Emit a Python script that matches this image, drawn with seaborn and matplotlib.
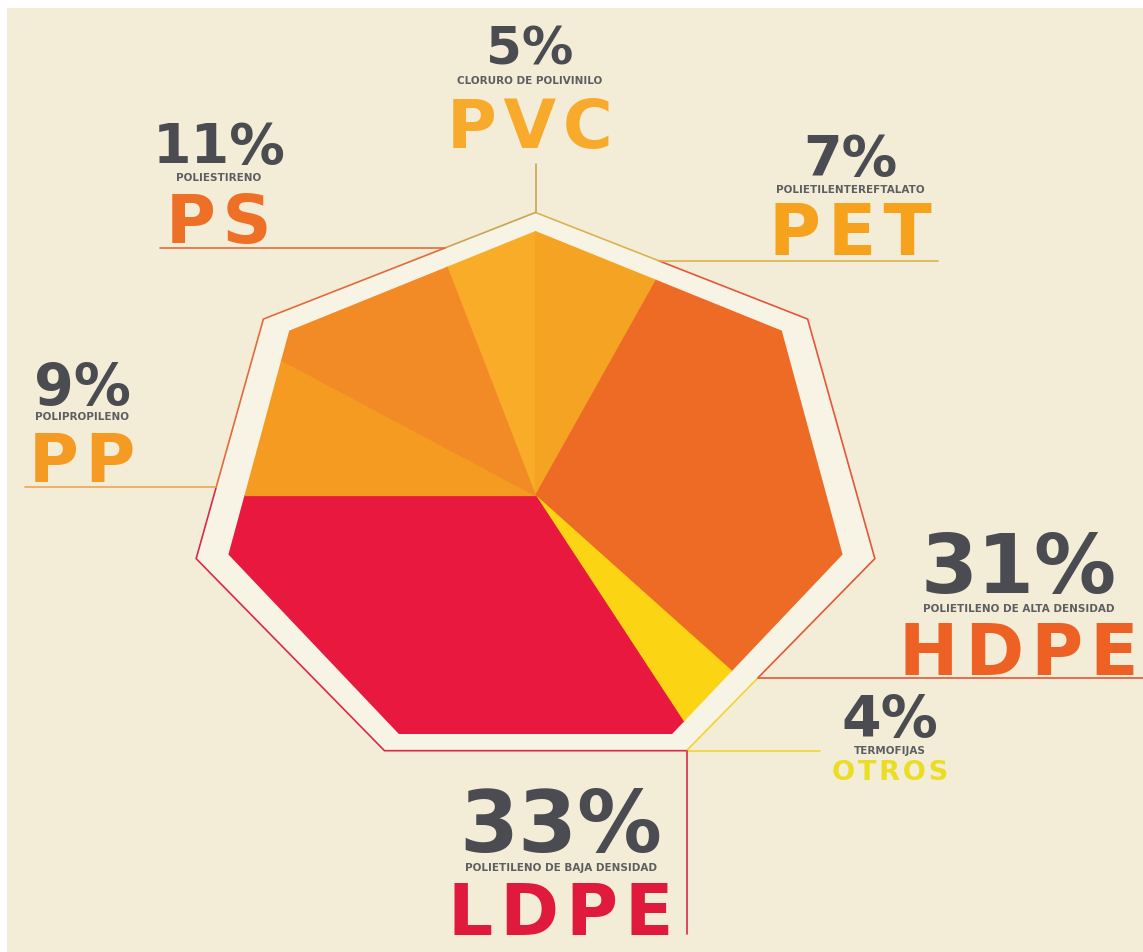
import numpy as np
import matplotlib
matplotlib.use('Agg')
import matplotlib.pyplot as plt
from matplotlib.patches import Polygon, Rectangle
import seaborn as sns

# plastic shares, clockwise from the top of the heptagon
materials = ['PVC', 'PET', 'HDPE', 'OTROS', 'LDPE', 'PP', 'PS']
shares = [5, 7, 31, 4, 33, 9, 11]
descriptions = ['CLORURO DE POLIVINILO', 'POLIETILENTEREFTALATO', 'POLIETILENO DE ALTA DENSIDAD',
                'TERMOFIJAS', 'POLIETILENO DE BAJA DENSIDAD', 'POLIPROPILENO', 'POLIESTIRENO']
slice_colors = ['#F8AC28', '#F5A323', '#EE6B25', '#FBD414', '#E8183F', '#F59B22', '#F28A26']
name_colors = ['#F8AA2C', '#F6A21C', '#EE6125', '#EADD22', '#E01A3C', '#F59A22', '#EE7027']
line_colors = ['#C8A550', '#DDB24E', '#E4553A', '#F0D52E', '#D9294A', '#EFA550', '#E36A3A']

# label layout in pixels: centre x, baseline of percent, description, name, font sizes
label_layout = {
    'PVC':   (530, 65, 84, 148, 37, 49),
    'PET':   (850, 175, 193, 255, 40, 51),
    'HDPE':  (1019, 593, 612, 675, 59, 51),
    'OTROS': (890, 737, 754, 780, 41, 19.5),
    'LDPE':  (561, 852, 871, 935, 61, 51),
    'PP':    (82, 405, 420, 482, 41, 49),
    'PS':    (219, 163, 181, 243, 40, 49),
}

W, H = 1143, 953
CX, CY, SX, SY = 535.5, 496.6, 315.0, 264.6
BG = '#F3EDD7'
BAND = '#F7F4E6'
NUM = '#4B4B52'
DESC = '#5E5E62'


def unit(x, y):
    return (x - CX) / SX, (CY - y) / SY


def heptagon(rx, ry):
    a = np.deg2rad(90 - np.arange(7) * 360 / 7)
    return np.column_stack([rx * np.cos(a), ry * np.sin(a)])


def edge_at_y(verts, i, j, yu):
    p, q = verts[i], verts[j]
    t = (yu - p[1]) / (q[1] - p[1])
    return p + t * (q - p)


if __name__ == '__main__':
    sns.set_theme(style='white')
    plt.rcParams['font.family'] = ['DejaVu Sans']

    fig = plt.figure(figsize=(W / 100, H / 100), dpi=100, facecolor='white')
    fig.add_artist(Rectangle((7 / W, 0), 1 - 7 / W, 1 - 9 / H, transform=fig.transFigure,
                             facecolor=BG, edgecolor='none', zorder=0))
    ax = fig.add_axes([0, 0, 1, 1])

    # pie clipped to a heptagon
    wedges, _ = ax.pie(shares, colors=slice_colors, startangle=108, counterclock=False,
                       radius=1.5, wedgeprops=dict(linewidth=0.8))
    clip = Polygon(heptagon(1.0, 1.0), closed=True, transform=ax.transData)
    for w in wedges:
        w.set_edgecolor(w.get_facecolor())
        w.set_clip_on(True)
        w.set_clip_path(clip)
        w.set_zorder(3)

    outline = heptagon(1.105, 1.07)
    ax.add_patch(Polygon(outline, closed=True, facecolor=BAND, edgecolor='none', zorder=1))

    pet_pt = edge_at_y(outline, 0, 1, unit(0, 262)[1])
    hdpe_pt = edge_at_y(outline, 2, 3, unit(0, 679)[1])
    pp_pt = edge_at_y(outline, 5, 6, unit(0, 488)[1])
    ps_pt = edge_at_y(outline, 6, 0, unit(0, 249)[1])
    v = outline

    segments = [
        ([v[0], pet_pt], line_colors[1]),
        ([pet_pt, v[1], v[2], hdpe_pt], line_colors[2]),
        ([hdpe_pt, v[3]], line_colors[3]),
        ([v[3], v[4], v[5], pp_pt], line_colors[4]),
        ([pp_pt, v[6], ps_pt], line_colors[6]),
        ([ps_pt, v[0]], line_colors[0]),
    ]
    for pts, c in segments:
        pts = np.array(pts)
        ax.plot(pts[:, 0], pts[:, 1], color=c, lw=1.2, zorder=2, solid_joinstyle='miter')

    # leader lines
    leaders = {
        'PVC': (v[0], (v[0][0], unit(0, 165)[1])),
        'PET': (pet_pt, (unit(938, 0)[0], pet_pt[1])),
        'HDPE': (hdpe_pt, (unit(1143, 0)[0], hdpe_pt[1])),
        'OTROS': (v[3], (unit(820, 0)[0], v[3][1])),
        'LDPE': (v[3], (v[3][0], unit(0, 935)[1])),
        'PP': (pp_pt, (unit(25, 0)[0], pp_pt[1])),
        'PS': (ps_pt, (unit(160, 0)[0], ps_pt[1])),
    }
    for i, m in enumerate(materials):
        a, b = leaders[m]
        ax.plot([a[0], b[0]], [a[1], b[1]], color=line_colors[i], lw=1.2, zorder=2)

    # labels
    for i, m in enumerate(materials):
        cx, y_pct, y_desc, y_name, fs_pct, fs_name = label_layout[m]
        ax.text(*unit(cx, y_pct), f'{shares[i]}%', ha='center', va='baseline',
                fontsize=fs_pct, fontweight='bold', color=NUM, zorder=4)
        ax.text(*unit(cx, y_desc), descriptions[i], ha='center', va='baseline',
                fontsize=7.5, fontweight='bold', color=DESC, zorder=4)
        ax.text(*unit(cx, y_name), '\u200a'.join(m), ha='center', va='baseline',
                fontsize=fs_name, fontweight='bold', color=name_colors[i], zorder=4)

    ax.set_aspect('auto')
    x0, y0 = unit(0, H)
    x1, y1 = unit(W, 0)
    ax.set_xlim(x0, x1)
    ax.set_ylim(y0, y1)
    ax.set_axis_off()

    fig.savefig('out.png', dpi=100, facecolor=fig.get_facecolor())
